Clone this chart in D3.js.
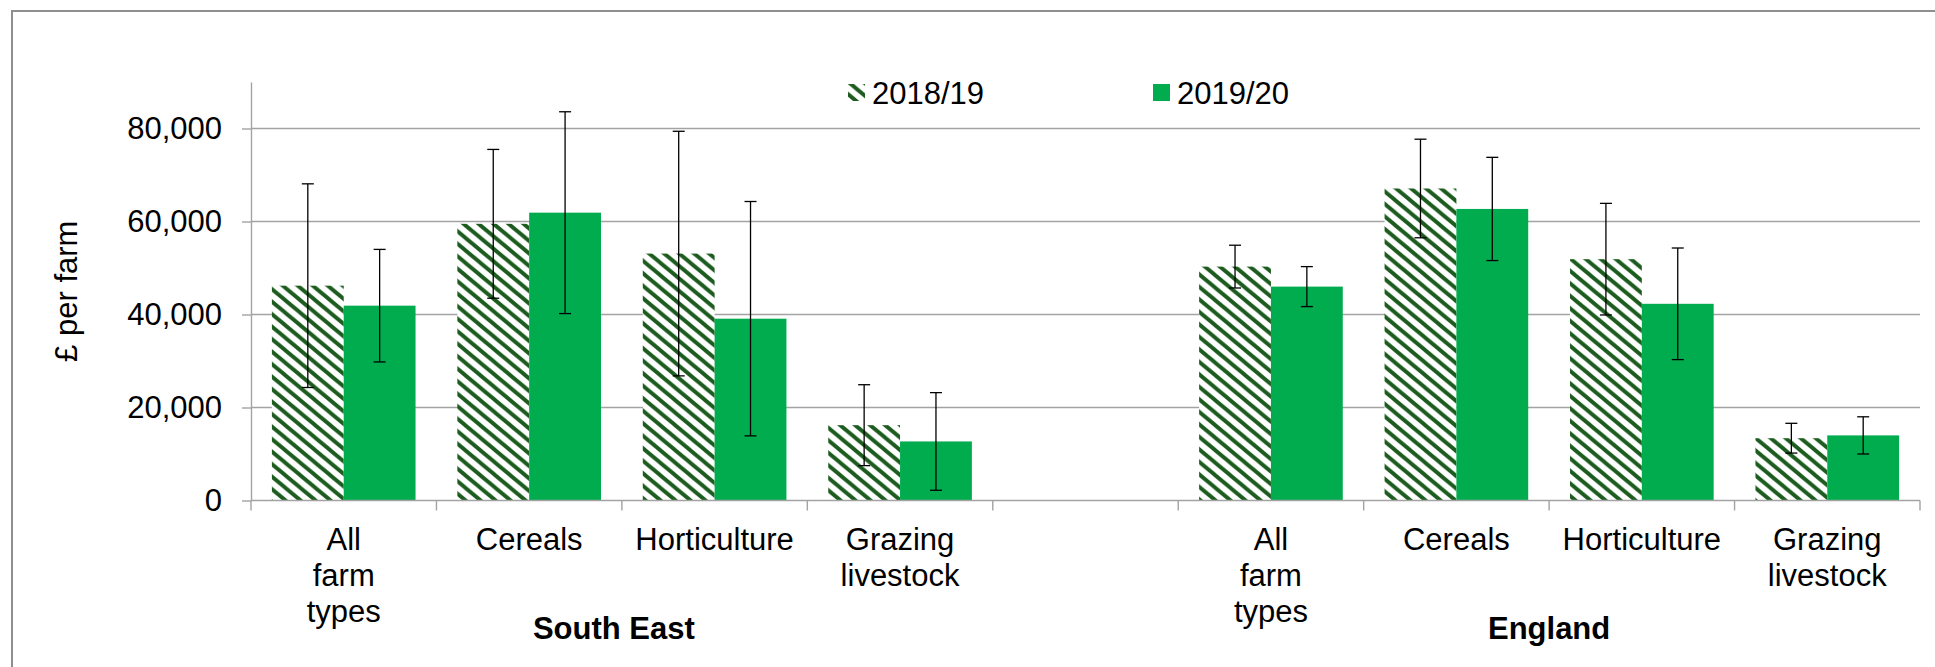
<!DOCTYPE html>
<html>
<head>
<meta charset="utf-8">
<script src="https://cdn.jsdelivr.net/npm/d3@7"></script>
<style>
  html, body { margin: 0; padding: 0; background: #fff; }
  svg { display: block; }
  text { font-family: "Liberation Sans", Arial, sans-serif; fill: #000; }
</style>
</head>
<body>
<svg id="chart" width="1935" height="667"></svg>
<script>
// ---------- DATA ----------
const regions = ["South East", "England"];
const farmTypes = ["All farm types", "Cereals", "Horticulture", "Grazing livestock"];
const farmTypeLines = [["All", "farm", "types"], ["Cereals"], ["Horticulture"], ["Grazing", "livestock"]];
const seriesNames = ["2018/19", "2019/20"];

const southEast2018 = [46200, 59500, 53100, 16200];
const southEast2019 = [41900, 61900, 39100, 12700];
const england2018   = [50300, 67100, 51900, 13400];
const england2019   = [46000, 62700, 42300, 14000];

const southEast2018Err = [21900, 16000, 26300, 8700];
const southEast2019Err = [12100, 21700, 25200, 10500];
const england2018Err   = [4600, 10600, 12000, 3200];
const england2019Err   = [4300, 11100, 12000, 4000];

const yTicks = [0, 20000, 40000, 60000, 80000];
const yMax = 90000;
const yTitle = "£ per farm";

(function () {
// ---------- BUILD ROWS ----------
const values = {
  "South East": [southEast2018, southEast2019],
  "England": [england2018, england2019]
};
const errors = {
  "South East": [southEast2018Err, southEast2019Err],
  "England": [england2018Err, england2019Err]
};
const categories = [];
regions.forEach((r, ri) => {
  if (ri > 0) categories.push({ key: "gap" + ri, region: null });
  farmTypes.forEach((f, fi) => categories.push({ key: r + "|" + f, region: r, fi }));
});
const bars = [];
categories.forEach(c => {
  if (!c.region) return;
  seriesNames.forEach((s, si) => {
    bars.push({ cat: c.key, series: s, si,
      value: values[c.region][si][c.fi],
      err: errors[c.region][si][c.fi] });
  });
});

// ---------- LAYOUT ----------
const svg = d3.select("#chart");
const pLeft = 251, pRight = 1920, pTop = 82, pBottom = 500.5;
const darkGreen = "#1d5c1f", green = "#00ac4e", gridCol = "#a3a3a3";

const x = d3.scaleBand().domain(categories.map(c => c.key)).range([pLeft, pRight]).paddingInner(0).paddingOuter(0);
const x1 = d3.scaleBand().domain(seriesNames).range([0, x.bandwidth()]).paddingInner(0).paddingOuter(0.291);
const y = d3.scaleLinear().domain([0, yMax]).range([pBottom, pTop]);

// pattern
const defs = svg.append("defs");
const pw = 15, ph = 12.5;
const pat = defs.append("pattern").attr("id", "hatch").attr("patternUnits", "userSpaceOnUse")
  .attr("width", pw).attr("height", ph);
pat.append("rect").attr("width", pw).attr("height", ph).attr("fill", "#fff");
pat.append("path")
  .attr("d", `M${-pw},${-ph}L${2*pw},${2*ph}M0,${-ph}L${2*pw},${ph}M${-pw},0L${pw},${2*ph}`)
  .attr("stroke", darkGreen).attr("stroke-width", 3.9).attr("fill", "none");

const fillFor = si => si === 0 ? "url(#hatch)" : green;

// chart border
svg.append("rect").attr("x", 12).attr("y", 11).attr("width", 2000).attr("height", 800)
  .attr("fill", "none").attr("stroke", "#8f8f8f").attr("stroke-width", 2);

// gridlines
svg.append("g").selectAll("line").data(yTicks.filter(d => d > 0)).join("line")
  .attr("x1", pLeft).attr("x2", pRight).attr("y1", d => y(d)).attr("y2", d => y(d))
  .attr("stroke", gridCol).attr("stroke-width", 1.4);

// y axis
const yAxis = svg.append("g").attr("transform", `translate(${pLeft},0)`)
  .call(d3.axisLeft(y).tickValues(yTicks).tickFormat(d3.format(",")).tickSize(9).tickSizeOuter(0).tickPadding(20));
yAxis.select(".domain").attr("stroke", gridCol).attr("stroke-width", 1.4);
yAxis.selectAll(".tick line").attr("stroke", gridCol).attr("stroke-width", 1.4);
yAxis.selectAll(".tick text").attr("font-size", 31).attr("font-family", "Liberation Sans, Arial, sans-serif").attr("fill", "#000");

// y title
svg.append("text").attr("transform", `translate(77,${(pTop + pBottom) / 2}) rotate(-90)`)
  .attr("text-anchor", "middle").attr("font-size", 31).text(yTitle);

// bars
svg.append("g").selectAll("rect").data(bars).join("rect")
  .attr("x", d => x(d.cat) + x1(d.series))
  .attr("y", d => y(d.value))
  .attr("width", x1.bandwidth())
  .attr("height", d => y(0) - y(d.value))
  .attr("fill", d => fillFor(d.si));

// error bars
const eb = svg.append("g").attr("stroke", "#000").attr("stroke-width", 1.3);
bars.forEach(d => {
  const cx = x(d.cat) + x1(d.series) + x1.bandwidth() / 2;
  const y1 = y(d.value + d.err), y2 = y(d.value - d.err);
  eb.append("line").attr("x1", cx).attr("x2", cx).attr("y1", y1).attr("y2", y2);
  eb.append("line").attr("x1", cx - 6).attr("x2", cx + 6).attr("y1", y1).attr("y2", y1);
  eb.append("line").attr("x1", cx - 6).attr("x2", cx + 6).attr("y1", y2).attr("y2", y2);
});

// x axis line & boundary ticks
svg.append("line").attr("x1", pLeft).attr("x2", pRight).attr("y1", y(0)).attr("y2", y(0))
  .attr("stroke", gridCol).attr("stroke-width", 1.4);
const bounds = categories.map(c => x(c.key)).concat([x.range()[1]]);
svg.append("g").selectAll("line").data(bounds).join("line")
  .attr("x1", d => d).attr("x2", d => d).attr("y1", y(0)).attr("y2", y(0) + 10)
  .attr("stroke", gridCol).attr("stroke-width", 1.4);

// category labels
const catLabels = svg.append("g").attr("text-anchor", "middle").attr("font-size", 31);
categories.forEach(c => {
  if (!c.region) return;
  const t = catLabels.append("text").attr("x", x(c.key) + x.bandwidth() / 2).attr("y", y(0) + 49);
  farmTypeLines[c.fi].forEach((ln, i) => {
    t.append("tspan").attr("x", x(c.key) + x.bandwidth() / 2).attr("dy", i === 0 ? 0 : 36).text(ln);
  });
});

// region labels
regions.forEach(r => {
  const keys = categories.filter(c => c.region === r).map(c => c.key);
  const x0 = x(keys[0]), xe = x(keys[keys.length - 1]) + x.bandwidth();
  svg.append("text").attr("x", (x0 + xe) / 2 - (r === "South East" ? 8 : 0)).attr("y", y(0) + 138)
    .attr("text-anchor", "middle").attr("font-size", 31).attr("font-weight", "bold").text(r);
});

// legend
const legendX = [848, 1153];
const lg = svg.append("g");
seriesNames.forEach((s, si) => {
  lg.append("rect").attr("x", legendX[si]).attr("y", 84).attr("width", 17).attr("height", 17).attr("fill", fillFor(si));
  lg.append("text").attr("x", legendX[si] + 24).attr("y", 103.5).attr("font-size", 31).text(s);
});
})();
</script>
</body>
</html>
